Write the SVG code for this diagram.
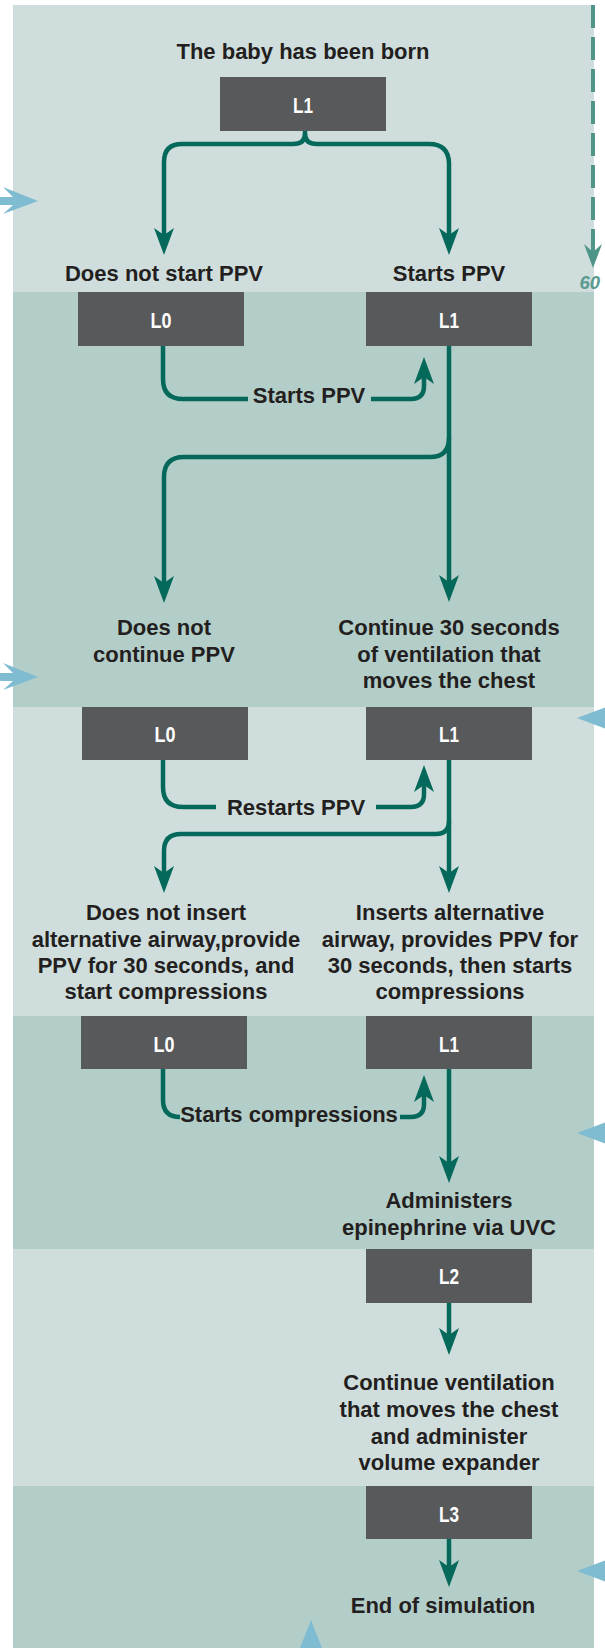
<svg xmlns="http://www.w3.org/2000/svg" width="605" height="1648" viewBox="0 0 605 1648">
<defs>
<style>
.bandL{fill:#cfdedd}
.bandD{fill:#b3cdc8}
.box{fill:#58595b}
.bl{font-family:"Liberation Sans",Arial,sans-serif;font-weight:bold;font-size:22px;fill:#ffffff;text-anchor:middle}
.t{font-family:"Liberation Sans",Arial,sans-serif;font-weight:bold;font-size:22px;fill:#231f20;text-anchor:middle}
.c{fill:none;stroke:#04695a;stroke-width:4.5;marker-end:url(#ah)}
.cn{fill:none;stroke:#04695a;stroke-width:4.5}
.blue{fill:#7fbcd2}
</style>
<marker id="ah" markerUnits="userSpaceOnUse" orient="auto" overflow="visible" refX="0" refY="0" markerWidth="1" markerHeight="1">
<path d="M18,0 L-9,-10 L-2,0 L-9,10 Z" fill="#04695a"/>
</marker>
</defs>

<g id="bands">
<rect class="bandL" x="13" y="5" width="581" height="287"/>
<rect class="bandD" x="13" y="292" width="581" height="415"/>
<rect class="bandL" x="13" y="707" width="581" height="309"/>
<rect class="bandD" x="13" y="1016" width="581" height="233"/>
<rect class="bandL" x="13" y="1249" width="581" height="237"/>
<rect class="bandD" x="13" y="1486" width="581" height="162"/>
</g>

<g id="decor">
<polygon class="blue" points="0,197 13,197 3,187 38,201 3,214 13,205 0,205"/>
<polygon class="blue" points="0,673 13,673 3,663 38,677 3,690 13,681 0,681"/>
<polygon class="blue" points="577,718 605,707.5 605,728.5"/>
<polygon class="blue" points="577,1133 605,1122.5 605,1143.5"/>
<polygon class="blue" points="577,1571 605,1560.5 605,1581.5"/>
<polygon class="blue" points="311,1620 300,1648 322,1648"/>
<line x1="593" y1="5" x2="593" y2="252" stroke="#4f9689" stroke-width="4" stroke-dasharray="23 9"/>
<polygon points="593,268 584,244 593,252 602,244" fill="#4f9689"/>
<text x="600" y="289" font-family="Liberation Sans, Arial, sans-serif" font-weight="bold" font-style="italic" font-size="18.5" fill="#5a9b90" text-anchor="end">60</text>
</g>

<g id="connectors">
<path class="c" d="M305,131 L305,134 Q305,144 293,144 L182,144 Q164,144 164,162 L164,237"/>
<path class="c" d="M305,134 Q305,144 317,144 L429,144 Q449,144 449,164 L449,237"/>
<path class="cn" d="M163,346 L163,379 Q163,399 183,399 L248,399"/>
<path class="c" d="M371,399 L411,399 Q424,399 424,386 L424,375"/>
<path class="c" d="M449,346 L449,584"/>
<path class="c" d="M449,438 Q449,457 430,457 L184,457 Q164,457 164,477 L164,585"/>
<path class="cn" d="M163,760 L163,787 Q163,807 183,807 L216,807"/>
<path class="c" d="M376,807 L411,807 Q424,807 424,794 L424,783"/>
<path class="c" d="M449,760 L449,875"/>
<path class="c" d="M449,821 Q449,834 436,834 L181,834 Q164,834 164,851 L164,875"/>
<path class="cn" d="M163,1069 L163,1100 Q163,1117 180,1117"/>
<path class="c" d="M400,1117 L411,1117 Q424,1117 424,1104 L424,1093"/>
<path class="c" d="M449,1069 L449,1165"/>
<path class="c" d="M449,1303 L449,1337"/>
<path class="c" d="M449,1539 L449,1569"/>
<text class="t" x="309" y="403">Starts PPV</text>
<text class="t" x="296" y="815">Restarts PPV</text>
<text class="t" x="289" y="1122">Starts compressions</text>
</g>

<g id="n-start">
<text class="t" x="303" y="59">The baby has been born</text>
</g>
<g id="n-box1">
<rect class="box" x="220" y="77" width="166" height="54"/>
<text class="bl" x="303" y="113" textLength="20" lengthAdjust="spacingAndGlyphs">L1</text>
</g>
<g id="n-nostart">
<text class="t" x="164" y="281">Does not start PPV</text>
</g>
<g id="n-starts">
<text class="t" x="449" y="281">Starts PPV</text>
</g>
<g id="n-box2">
<rect class="box" x="78" y="292" width="166" height="54"/>
<text class="bl" x="161" y="328" textLength="21" lengthAdjust="spacingAndGlyphs">L0</text>
</g>
<g id="n-box3">
<rect class="box" x="366" y="292" width="166" height="54"/>
<text class="bl" x="449" y="328" textLength="20" lengthAdjust="spacingAndGlyphs">L1</text>
</g>
<g id="n-nocontinue">
<text class="t" x="164" y="635">Does not</text>
<text class="t" x="164" y="662">continue PPV</text>
</g>
<g id="n-continue">
<text class="t" x="449" y="635">Continue 30 seconds</text>
<text class="t" x="449" y="662">of ventilation that</text>
<text class="t" x="449" y="688">moves the chest</text>
</g>
<g id="n-box4">
<rect class="box" x="82" y="707" width="166" height="53"/>
<text class="bl" x="165" y="742" textLength="21" lengthAdjust="spacingAndGlyphs">L0</text>
</g>
<g id="n-box5">
<rect class="box" x="366" y="707" width="166" height="53"/>
<text class="bl" x="449" y="742" textLength="20" lengthAdjust="spacingAndGlyphs">L1</text>
</g>
<g id="n-noinsert">
<text class="t" x="166" y="920">Does not insert</text>
<text class="t" x="166" y="947">alternative airway,provide</text>
<text class="t" x="166" y="973">PPV for 30 seconds, and</text>
<text class="t" x="166" y="999">start compressions</text>
</g>
<g id="n-insert">
<text class="t" x="450" y="920">Inserts alternative</text>
<text class="t" x="450" y="947">airway, provides PPV for</text>
<text class="t" x="450" y="973">30 seconds, then starts</text>
<text class="t" x="450" y="999">compressions</text>
</g>
<g id="n-box6">
<rect class="box" x="81" y="1016" width="166" height="53"/>
<text class="bl" x="164" y="1052" textLength="21" lengthAdjust="spacingAndGlyphs">L0</text>
</g>
<g id="n-box7">
<rect class="box" x="366" y="1016" width="166" height="53"/>
<text class="bl" x="449" y="1052" textLength="20" lengthAdjust="spacingAndGlyphs">L1</text>
</g>
<g id="n-epi">
<text class="t" x="449" y="1208">Administers</text>
<text class="t" x="449" y="1235">epinephrine via UVC</text>
</g>
<g id="n-box8">
<rect class="box" x="366" y="1249" width="166" height="54"/>
<text class="bl" x="449" y="1284" textLength="20" lengthAdjust="spacingAndGlyphs">L2</text>
</g>
<g id="n-volume">
<text class="t" x="449" y="1390">Continue ventilation</text>
<text class="t" x="449" y="1417">that moves the chest</text>
<text class="t" x="449" y="1444">and administer</text>
<text class="t" x="449" y="1470">volume expander</text>
</g>
<g id="n-box9">
<rect class="box" x="366" y="1486" width="166" height="53"/>
<text class="bl" x="449" y="1522" textLength="20" lengthAdjust="spacingAndGlyphs">L3</text>
</g>
<g id="n-end">
<text class="t" x="443" y="1613">End of simulation</text>
</g>
</svg>
